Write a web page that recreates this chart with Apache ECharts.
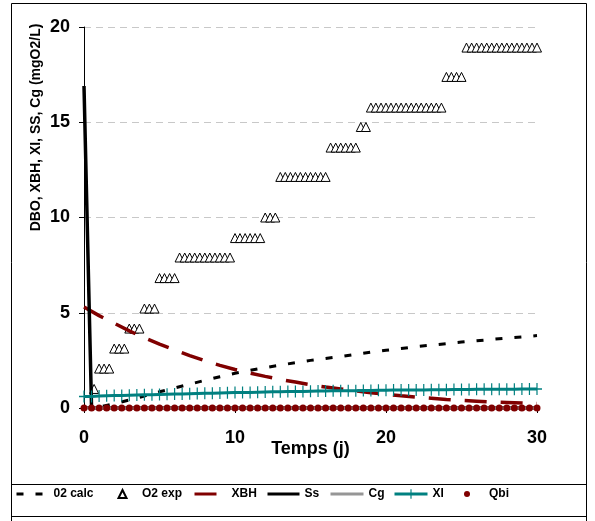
<!DOCTYPE html>
<html>
<head>
<meta charset="utf-8">
<script src="https://cdn.jsdelivr.net/npm/echarts@6/dist/echarts.min.js"></script>
<style>
html,body{margin:0;padding:0;background:#fff;}
#chart{width:595px;height:521px;}
</style>
</head>
<body>
<div id="chart"></div>
<script>
// ---- data ----
var xTicks = [0, 10, 20, 30];
var yTicks = [0, 5, 10, 15, 20];

// O2 calc (model), daily
var o2CalcTime = [0,1,2,3,4,5,6,7,8,9,10,11,12,13,14,15,16,17,18,19,20,21,22,23,24,25,26,27,28,29,30];
var o2CalcValue = [0,0.05,0.22,0.42,0.63,0.85,1.05,1.25,1.45,1.64,1.82,1.98,2.12,2.25,2.38,2.5,2.6,2.7,2.82,2.93,3.03,3.12,3.22,3.3,3.38,3.46,3.53,3.6,3.67,3.73,3.8];

// O2 exp (measured)
var o2ExpTime = [0.67,1,1.33,1.67,2,2.33,2.67,3,3.33,3.67,4,4.33,4.67,5,5.33,5.67,6,6.33,6.67,7,7.33,7.67,8,8.33,8.67,9,9.33,9.67,10,10.33,10.67,11,11.33,11.67,12,12.33,12.67,13,13.33,13.67,14,14.33,14.67,15,15.33,15.67,16,16.33,16.67,17,17.33,17.67,18,18.33,18.67,19,19.33,19.67,20,20.33,20.67,21,21.33,21.67,22,22.33,22.67,23,23.33,23.67,24,24.33,24.67,25,25.33,25.67,26,26.33,26.67,27,27.33,27.67,28,28.33,28.67,29,29.33,29.67,30];
var o2ExpValue = [1.0,
  2.07,2.07,2.07,
  3.12,3.12,3.12,
  4.17,4.17,4.17,
  5.22,5.22,5.22,
  6.82,6.82,6.82,6.82,
  7.9,7.9,7.9,7.9,7.9,7.9,7.9,7.9,7.9,7.9,7.9,
  8.92,8.92,8.92,8.92,8.92,8.92,
  10.0,10.0,10.0,
  12.13,12.13,12.13,12.13,12.13,12.13,12.13,12.13,12.13,12.13,
  13.67,13.67,13.67,13.67,13.67,13.67,
  14.75,14.75,
  15.77,15.77,15.77,15.77,15.77,15.77,15.77,15.77,15.77,15.77,15.77,15.77,15.77,15.77,15.77,
  17.38,17.38,17.38,17.38,
  18.92,18.92,18.92,18.92,18.92,18.92,18.92,18.92,18.92,18.92,18.92,18.92,18.92,18.92,18.92];

// XBH, daily
var xbhTime = [0,1,2,3,4,5,6,7,8,9,10,11,12,13,14,15,16,17,18,19,20,21,22,23,24,25,26,27,28,29,30];
var xbhValue = [5.3,4.85,4.45,4.05,3.68,3.35,3.05,2.75,2.48,2.24,2.02,1.83,1.66,1.5,1.36,1.22,1.1,1.0,0.9,0.8,0.72,0.64,0.57,0.51,0.45,0.4,0.36,0.32,0.29,0.26,0.23];

// Ss
var ssTime = [0, 0.5, 30];
var ssValue = [16.9, 0, 0];

// half-day grid for Cg, XI, Qbi
var halfTime = [0,0.5,1,1.5,2,2.5,3,3.5,4,4.5,5,5.5,6,6.5,7,7.5,8,8.5,9,9.5,10,10.5,11,11.5,12,12.5,13,13.5,14,14.5,15,15.5,16,16.5,17,17.5,18,18.5,19,19.5,20,20.5,21,21.5,22,22.5,23,23.5,24,24.5,25,25.5,26,26.5,27,27.5,28,28.5,29,29.5,30];
var cgValue = [0,0,0,0,0,0,0,0,0,0,0,0,0,0,0,0,0,0,0,0,0,0,0,0,0,0,0,0,0,0,0,0,0,0,0,0,0,0,0,0,0,0,0,0,0,0,0,0,0,0,0,0,0,0,0,0,0,0,0,0,0];
var xiValue = [0.60,0.61,0.63,0.64,0.65,0.66,0.67,0.68,0.69,0.70,0.71,0.72,0.73,0.74,0.75,0.76,0.77,0.78,0.79,0.80,0.81,0.82,0.82,0.83,0.84,0.85,0.85,0.86,0.87,0.87,0.88,0.89,0.89,0.90,0.90,0.91,0.91,0.92,0.92,0.93,0.93,0.94,0.94,0.95,0.95,0.95,0.96,0.96,0.96,0.97,0.97,0.97,0.98,0.98,0.98,0.99,0.99,0.99,1.00,1.00,1.00];
var qbiValue = [0,0,0,0,0,0,0,0,0,0,0,0,0,0,0,0,0,0,0,0,0,0,0,0,0,0,0,0,0,0,0,0,0,0,0,0,0,0,0,0,0,0,0,0,0,0,0,0,0,0,0,0,0,0,0,0,0,0,0,0,0];

var seriesNames = ['02 calc', 'O2 exp', 'XBH', 'Ss', 'Cg', 'XI', 'Qbi'];

function pairs(t, v) { return t.map(function (x, i) { return [x, v[i]]; }); }

var FONT = "'Liberation Sans', Arial, sans-serif";
var PLUS = 'path://M4.4,0 H5.6 V4.4 H10 V5.6 H5.6 V10 H4.4 V5.6 H0 V4.4 H4.4 Z';

function legendItem(name, left, w, h, pad, hideSymbol) {
  var l = {
    data: [name], left: left, top: 488, padding: 0,
    itemWidth: w, itemHeight: h, itemGap: 0,
    selectedMode: false,
    lineStyle: { width: 3 },
    textStyle: { fontFamily: FONT, fontWeight: 'bold', fontSize: 12, color: '#000', padding: [0, 0, 0, pad || 0] }
  };
  if (hideSymbol) { l.itemStyle = { opacity: 0 }; }
  return l;
}

var chart = echarts.init(document.getElementById('chart'), null, { renderer: 'canvas' });
chart.setOption({
  animation: false,
  backgroundColor: '#fff',
  grid: { left: 84, right: 58, top: 27, bottom: 113, containLabel: false },
  xAxis: {
    type: 'value', min: xTicks[0], max: xTicks[xTicks.length - 1], interval: 10,
    name: 'Temps (j)', nameLocation: 'middle', nameGap: 32, nameMoveOverlap: false,
    nameTextStyle: { fontFamily: FONT, fontWeight: 'bold', fontSize: 18, color: '#000' },
    axisLine: { onZero: false, lineStyle: { color: '#000', width: 1 } },
    axisTick: { show: true, inside: false, length: 5, lineStyle: { color: '#000' } },
    axisLabel: { margin: 21, fontFamily: FONT, fontWeight: 'bold', fontSize: 18, color: '#000' },
    splitLine: { show: false }
  },
  yAxis: {
    type: 'value', min: yTicks[0], max: yTicks[yTicks.length - 1], interval: 5,
    name: 'DBO, XBH, XI, SS, Cg (mgO2/L)', nameLocation: 'middle', nameGap: 41, nameMoveOverlap: false,
    nameTextStyle: { fontFamily: FONT, fontWeight: 'bold', fontSize: 14, color: '#000', padding: [0, 0, 0, 180] },
    axisLine: { show: true, lineStyle: { color: '#000', width: 1 } },
    axisTick: { show: true, inside: false, length: 5, lineStyle: { color: '#000' } },
    axisLabel: { margin: 14, fontFamily: FONT, fontWeight: 'bold', fontSize: 18, color: '#000' },
    splitLine: { show: true, lineStyle: { color: '#c8c8c8', width: 1, type: [7, 5] } }
  },
  legend: [
    legendItem(seriesNames[0], 15, 32, 12, 0, true),
    legendItem(seriesNames[1], 117.5, 8, 8, 10.5),
    legendItem(seriesNames[2], 193, 32, 12, 0, true),
    legendItem(seriesNames[3], 266, 32, 12, 0, true),
    legendItem(seriesNames[4], 329, 33, 12, 0, true),
    legendItem(seriesNames[5], 393, 33, 12),
    legendItem(seriesNames[6], 464, 6, 6, 14)
  ],
  graphic: [
    { type: 'rect', shape: { x: 11.5, y: 3.5, width: 575, height: 540 }, style: { fill: 'none', stroke: '#000', lineWidth: 1 }, silent: true },
    { type: 'line', shape: { x1: 11, y1: 484.5, x2: 587, y2: 484.5 }, style: { stroke: '#000', lineWidth: 1 }, silent: true },
    { type: 'line', shape: { x1: 11, y1: 516.5, x2: 587, y2: 516.5 }, style: { stroke: '#000', lineWidth: 1 }, silent: true }
  ],
  series: [
    {
      name: seriesNames[0], type: 'line', data: pairs(o2CalcTime, o2CalcValue),
      symbol: 'none', color: '#000',
      lineStyle: { color: '#000', width: 3, type: [7, 12] }
    },
    {
      name: seriesNames[1], type: 'scatter', data: pairs(o2ExpTime, o2ExpValue),
      symbol: 'triangle', symbolSize: [9, 9], symbolKeepAspect: true,
      itemStyle: { color: '#fff', borderColor: '#000', borderWidth: 1, opacity: 1 }
    },
    {
      name: seriesNames[2], type: 'line', data: pairs(xbhTime, xbhValue),
      symbol: 'none', color: '#800000',
      lineStyle: { color: '#800000', width: 3.5, type: [22, 14] }
    },
    {
      name: seriesNames[3], type: 'line', data: pairs(ssTime, ssValue),
      symbol: 'none', color: '#000',
      lineStyle: { color: '#000', width: 3.5 }
    },
    {
      name: seriesNames[4], type: 'line', data: pairs(halfTime, cgValue),
      symbol: 'none', color: '#969696',
      lineStyle: { color: '#969696', width: 3 }
    },
    {
      name: seriesNames[5], type: 'line', data: pairs(halfTime, xiValue),
      symbol: PLUS, symbolSize: [10, 12], showSymbol: true, color: '#008080',
      itemStyle: { color: '#008080' },
      lineStyle: { color: '#008080', width: 3 }
    },
    {
      name: seriesNames[6], type: 'scatter', data: pairs(halfTime, qbiValue),
      symbol: 'circle', symbolSize: 7, color: '#800000', z: 5,
      itemStyle: { color: '#800000', opacity: 1 }
    }
  ]
});
</script>
</body>
</html>
